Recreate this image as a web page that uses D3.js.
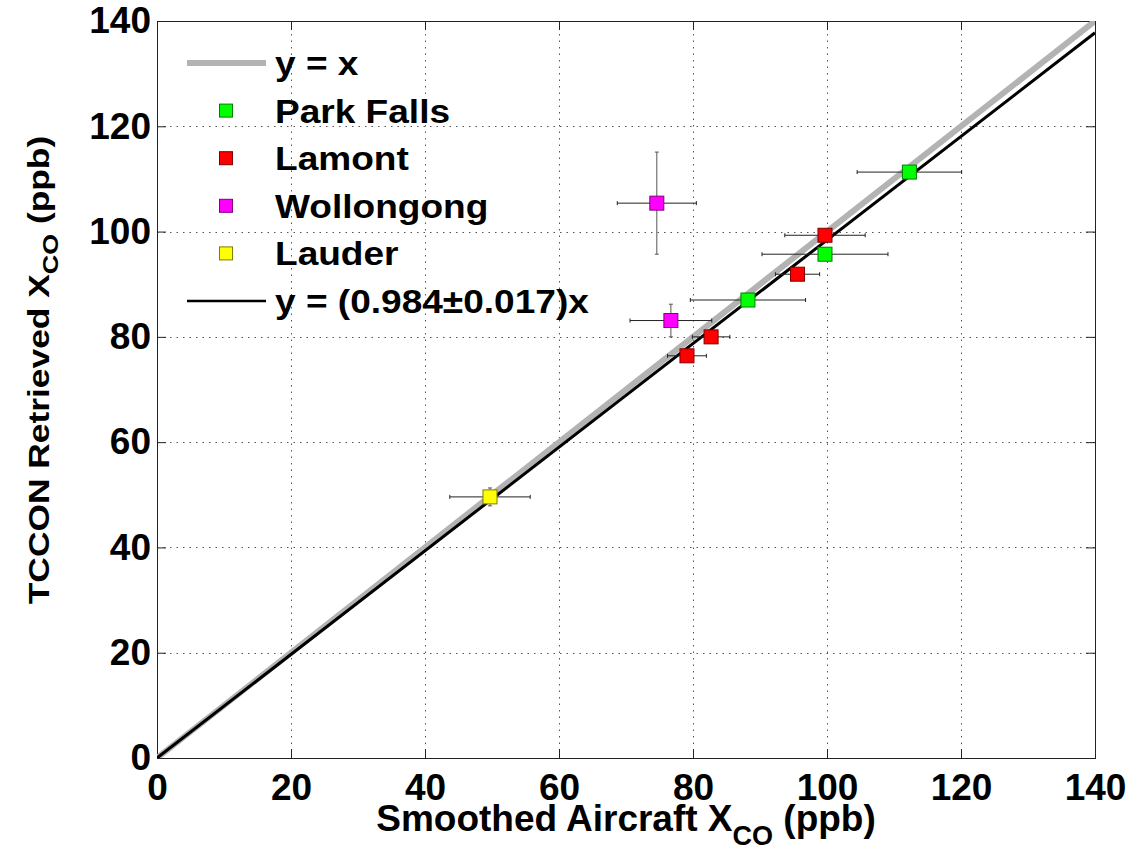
<!DOCTYPE html>
<html>
<head>
<meta charset="utf-8">
<script src="https://cdn.jsdelivr.net/npm/d3@7"></script>
<style>
  body { margin: 0; background: #fff; }
  text { font-family: "Liberation Sans", Arial, sans-serif; font-weight: bold; fill: #000; }
</style>
</head>
<body>
<svg id="chart" width="1144" height="853"></svg>
<script>
// axis ticks
const xTicks = [0, 20, 40, 60, 80, 100, 120, 140];
const yTicks = [0, 20, 40, 60, 80, 100, 120, 140];

// site data (ppb)
const siteNames = ["Park Falls", "Lamont", "Wollongong", "Lauder"];
const siteColors = ["#00ff00", "#ff0000", "#ff00ff", "#ffff00"];

const parkFallsX = [88.2, 99.7, 112.3];
const parkFallsY = [87.0, 95.7, 111.3];
const parkFallsXErr = [8.6, 9.4, 7.8];
const parkFallsYErr = [1.0, 1.0, 1.0];

const lamontX = [79.1, 82.7, 95.6, 99.7];
const lamontY = [76.4, 80.0, 91.9, 99.3];
const lamontXErr = [2.9, 2.8, 3.3, 6.0];
const lamontYErr = [1.0, 1.0, 1.0, 1.0];

const wollongongX = [74.6, 76.7];
const wollongongY = [105.4, 83.1];
const wollongongXErr = [5.9, 6.1];
const wollongongYErr = [9.7, 3.1];

const lauderX = [49.7];
const lauderY = [49.6];
const lauderXErr = [6.0];
const lauderYErr = [1.7];

const fitSlope = 0.984;
const fitLabel = "y = (0.984\u00b10.017)x";

const svg = d3.select("#chart");
const pLeft = 157, pRight = 1095, pTop = 21, pBottom = 758;

const xScale = d3.scaleLinear().domain([0, 140]).range([pLeft, pRight]);
const yScale = d3.scaleLinear().domain([0, 140]).range([pBottom, pTop]);

svg.append("rect").attr("width", 1144).attr("height", 853).attr("fill", "#fff");

// dotted grid
const grid = svg.append("g").attr("stroke", "#555").attr("stroke-width", 1)
    .attr("stroke-dasharray", "1.5,5");
grid.selectAll(".gx").data(xTicks.slice(1, -1)).join("line")
    .attr("x1", d => Math.round(xScale(d)) + 0.5).attr("x2", d => Math.round(xScale(d)) + 0.5)
    .attr("y1", pTop).attr("y2", pBottom);
grid.selectAll(".gy").data(yTicks.slice(1, -1)).join("line")
    .attr("y1", d => Math.round(yScale(d)) + 0.5).attr("y2", d => Math.round(yScale(d)) + 0.5)
    .attr("x1", pLeft).attr("x2", pRight);

// axes with inward ticks
const fmt = d3.format("d");
const styleAxis = g => {
    g.select(".domain").remove();
    g.selectAll("line").attr("stroke", "#222");
    g.selectAll("text").style("font-size", "37px").attr("fill", "#000");
};
svg.append("g").attr("transform", `translate(0,${pBottom})`)
    .call(d3.axisBottom(xScale).tickValues(xTicks).tickFormat(fmt).tickSize(-9).tickPadding(16))
    .call(styleAxis);
svg.append("g").attr("transform", `translate(${pLeft},0)`)
    .call(d3.axisLeft(yScale).tickValues(yTicks).tickFormat(fmt).tickSize(-9).tickPadding(6))
    .call(styleAxis);
svg.append("g").attr("transform", `translate(0,${pTop})`)
    .call(d3.axisTop(xScale).tickValues(xTicks).tickFormat("").tickSize(-9))
    .call(styleAxis);
svg.append("g").attr("transform", `translate(${pRight},0)`)
    .call(d3.axisRight(yScale).tickValues(yTicks).tickFormat("").tickSize(-9))
    .call(styleAxis);

svg.append("rect")
    .attr("x", pLeft + 0.5).attr("y", pTop + 0.5)
    .attr("width", pRight - pLeft).attr("height", pBottom - pTop)
    .attr("fill", "none").attr("stroke", "#222").attr("stroke-width", 1);

// clip for the lines
svg.append("clipPath").attr("id", "plotClip")
    .append("rect").attr("x", pLeft).attr("y", pTop).attr("width", pRight - pLeft).attr("height", pBottom - pTop);

const lineGen = d3.line().x(d => xScale(d[0])).y(d => yScale(d[1]));
const plotArea = svg.append("g").attr("clip-path", "url(#plotClip)");

plotArea.append("path")
    .datum([[0, 0], [140, 140]])
    .attr("d", lineGen)
    .attr("fill", "none").attr("stroke", "#b3b3b3").attr("stroke-width", 6);

plotArea.append("path")
    .datum([[0, 0], [140, 140 * fitSlope]])
    .attr("d", lineGen)
    .attr("fill", "none").attr("stroke", "#000").attr("stroke-width", 3);

// build point records from the arrays
const siteData = [
    [parkFallsX, parkFallsY, parkFallsXErr, parkFallsYErr],
    [lamontX, lamontY, lamontXErr, lamontYErr],
    [wollongongX, wollongongY, wollongongXErr, wollongongYErr],
    [lauderX, lauderY, lauderXErr, lauderYErr]
];
const points = [];
siteData.forEach((s, i) => {
    s[0].forEach((xv, j) => {
        points.push({ site: i, x: xv, y: s[1][j], xe: s[2][j], ye: s[3][j] });
    });
});

// error bars
const errs = svg.append("g").attr("fill", "none").attr("stroke-width", 1);
const cap = 2;
points.forEach(p => {
    const cx = xScale(p.x), cy = yScale(p.y);
    const x0 = xScale(p.x - p.xe), x1 = xScale(p.x + p.xe);
    const y0 = yScale(p.y - p.ye), y1 = yScale(p.y + p.ye);
    errs.append("path").attr("stroke", "#222")
        .attr("d", `M${x0},${cy}H${x1}M${x0},${cy - cap}V${cy + cap}M${x1},${cy - cap}V${cy + cap}`);
    errs.append("path").attr("stroke", "#555")
        .attr("d", `M${cx},${y0}V${y1}M${cx - cap},${y0}H${cx + cap}M${cx - cap},${y1}H${cx + cap}`);
});

// markers
const msize = 14;
svg.append("g").selectAll("rect").data(points).join("rect")
    .attr("x", d => xScale(d.x) - msize / 2)
    .attr("y", d => yScale(d.y) - msize / 2)
    .attr("width", msize).attr("height", msize)
    .attr("fill", d => siteColors[d.site])
    .attr("stroke", d => d3.color(siteColors[d.site]).darker(2))
    .attr("stroke-width", 1);

// legend
const legendItems = [
    { label: "y = x", type: "line", color: "#b3b3b3", w: 6 },
    ...siteNames.map((n, i) => ({ label: n, type: "marker", color: siteColors[i] })),
    { label: fitLabel, type: "line", color: "#000", w: 2.5 }
];
const legendY = d3.scaleLinear().domain([0, 5]).range([63, 301]);
const legend = svg.append("g");
legendItems.forEach((item, i) => {
    const cy = legendY(i);
    if (item.type === "line") {
        legend.append("line").attr("x1", 187).attr("x2", 266).attr("y1", cy).attr("y2", cy)
            .attr("stroke", item.color).attr("stroke-width", item.w);
    } else {
        legend.append("rect").attr("x", 226 - 6.5).attr("y", cy - 6.5).attr("width", 13).attr("height", 13)
            .attr("fill", item.color).attr("stroke", d3.color(item.color).darker(2));
    }
    legend.append("text")
        .attr("transform", `translate(275,${cy + 12}) scale(1.09,1)`)
        .style("font-size", "34px")
        .text(item.label);
});

// axis titles
const xt = svg.append("text")
    .attr("x", (pLeft + pRight) / 2).attr("y", 831)
    .attr("text-anchor", "middle")
    .style("font-size", "37px");
xt.append("tspan").text("Smoothed Aircraft X");
xt.append("tspan").attr("dy", 14).style("font-size", "27px").text("CO");
xt.append("tspan").attr("dy", -14).text(" (ppb)");

const yt = svg.append("text")
    .attr("transform", `translate(49,370) rotate(-90) scale(1.22,1)`)
    .attr("text-anchor", "middle")
    .style("font-size", "29px");
yt.append("tspan").text("TCCON Retrieved X");
yt.append("tspan").attr("dy", 9).style("font-size", "22px").text("CO");
yt.append("tspan").attr("dy", -9).text(" (ppb)");
</script>
</body>
</html>
